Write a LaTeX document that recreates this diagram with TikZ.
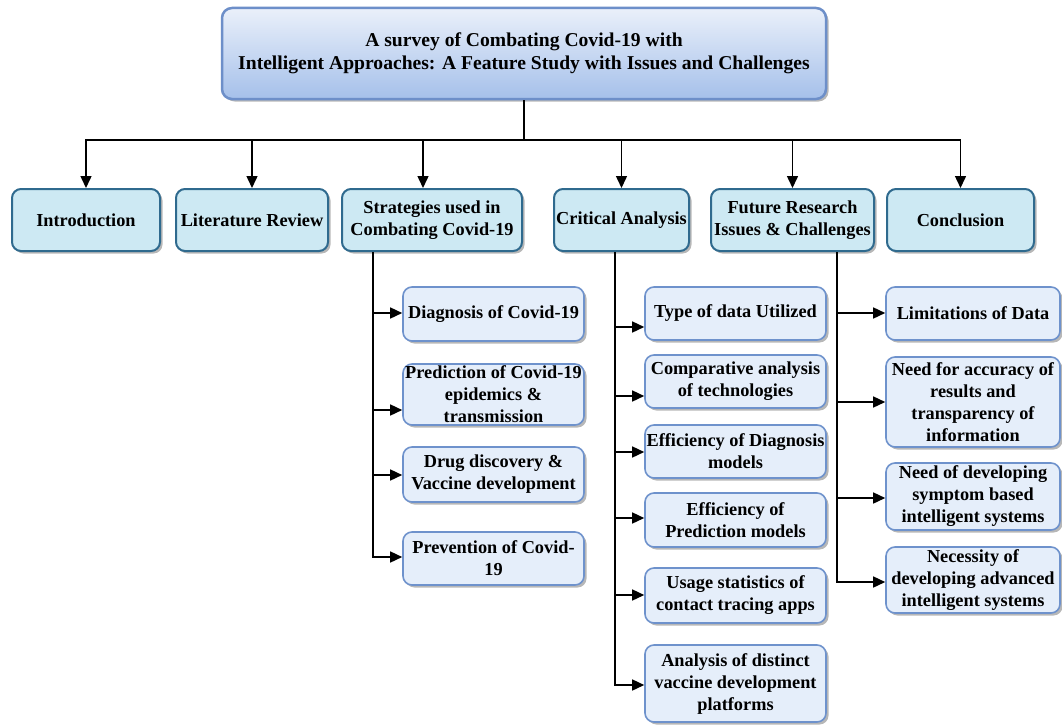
\documentclass[tikz,border=0pt]{standalone}
\usepackage{fontspec}
\setmainfont{Liberation Serif}[BoldFont={Liberation Serif Bold}]
\newfontfamily\boxfont{Liberation Serif Bold}
\usetikzlibrary{arrows.meta,shadows}
\definecolor{topline}{HTML}{6D8FC9}
\definecolor{toptop}{HTML}{EAF0FA}
\definecolor{topbot}{HTML}{A5C0EA}
\definecolor{lonefill}{HTML}{CDE9F3}
\definecolor{loneline}{HTML}{2F6A8E}
\definecolor{ltwofill}{HTML}{E5EEFA}
\definecolor{ltwoline}{HTML}{6E92CC}
\begin{document}
\begin{tikzpicture}[x=1pt,y=-1pt,
  txt/.style={font=\boxfont\fontsize{18.3}{22}\selectfont, align=center, inner sep=1pt},
  shad/.style={drop shadow={shadow xshift=2.5pt, shadow yshift=-2.5pt, opacity=0.4, fill=black!70}},
  titlebox/.style={txt, font=\boxfont\fontsize{19.6}{23}\selectfont, shad, draw=topline, line width=2.5pt, rounded corners=10pt, top color=toptop, bottom color=topbot},
  lone/.style={txt, shad, draw=loneline, line width=2pt, fill=lonefill, rounded corners=9pt, minimum height=62pt},
  ltwo/.style={txt, shad, draw=ltwoline, line width=1.6pt, fill=ltwofill, rounded corners=9pt},
  arr/.style={line width=1.5pt, -{Triangle[length=12pt,width=11pt]}},
  ln/.style={line width=1.5pt}]
\useasboundingbox (0,0) rectangle (1062,725);

\node[titlebox, minimum width=604pt, minimum height=91pt] (top) at (524,53.5)
  {A survey of Combating Covid-19 with\\Intelligent Approaches: A Feature Study with Issues and Challenges};

\node[lone, minimum width=148pt] (intro) at (86,220) {Introduction};
\node[lone, minimum width=152pt] (lit) at (252,220) {Literature Review};
\node[lone, minimum width=180pt] (strat) at (432,220) {Strategies used in\\Combating Covid-19};
\node[lone, minimum width=135pt] (crit) at (621.5,220) {Critical Analysis};
\node[lone, minimum width=163pt] (fut) at (792.5,220) {Future Research\\Issues \& Challenges};
\node[lone, minimum width=147pt] (conc) at (960.5,220) {Conclusion};

\coordinate (j) at (top.south |- 0,140);
\draw[ln] (top.south) -- (j);
\draw[arr] (j) -| (intro.north);
\draw[arr] (j) -| (lit.north);
\draw[arr] (j) -| ([xshift=-9pt]strat.north);
\draw[arr] (j) -| (crit.north);
\draw[arr] (j) -| (fut.north);
\draw[arr] (j) -| (conc.north);

% Strategies children
\node[ltwo, minimum width=181pt, minimum height=54pt] (diag) at (493.5,314) {Diagnosis of Covid-19};
\node[ltwo, minimum width=181pt, minimum height=61pt] (pred) at (493.5,394.5) {Prediction of Covid-19\\epidemics \&\\transmission};
\node[ltwo, minimum width=181pt, minimum height=55pt] (drug) at (493.5,474.5) {Drug discovery \&\\Vaccine development};
\node[ltwo, minimum width=181pt, minimum height=53pt] (prev) at (493.5,558.5) {Prevention of Covid-\\19};
\coordinate (s0) at (strat.south -| 373,0);
\draw[arr] (s0) |- (diag.west |- 0,313);
\draw[arr] (s0) |- (pred.west |- 0,410);
\draw[arr] (s0) |- (drug.west |- 0,475);
\draw[arr] (s0) |- (prev.west |- 0,557);

% Critical children
\node[ltwo, minimum width=181pt, minimum height=53pt] (type) at (735.5,313.5) {Type of data Utilized};
\node[ltwo, minimum width=181pt, minimum height=53pt] (comp) at (735.5,381.5) {Comparative analysis\\of technologies};
\node[ltwo, minimum width=181pt, minimum height=53pt] (effd) at (735.5,451.5) {Efficiency of Diagnosis\\models};
\node[ltwo, minimum width=181pt, minimum height=54pt] (effp) at (735.5,520) {Efficiency of\\Prediction models};
\node[ltwo, minimum width=181pt, minimum height=55pt] (usage) at (735.5,595.5) {Usage statistics of\\contact tracing apps};
\node[ltwo, minimum width=181pt, minimum height=77pt] (anal) at (735.5,683.5) {Analysis of distinct\\vaccine development\\platforms};
\coordinate (c0) at (crit.south -| 615,0);
\draw[arr] (c0) |- (type.west |- 0,327);
\draw[arr] (c0) |- (comp.west |- 0,396);
\draw[arr] (c0) |- (effd.west |- 0,452);
\draw[arr] (c0) |- (effp.west |- 0,518);
\draw[arr] (c0) |- (usage.west |- 0,595);
\draw[arr] (c0) |- (anal.west |- 0,685);

% Future children
\node[ltwo, minimum width=174pt, minimum height=53pt] (lim) at (973,313.5) {Limitations of Data};
\node[ltwo, minimum width=174pt, minimum height=90pt] (acc) at (973,402) {Need for accuracy of\\results and\\transparency of\\information};
\node[ltwo, minimum width=174pt, minimum height=67pt] (sym) at (973,496.5) {Need of developing\\symptom based\\intelligent systems};
\node[ltwo, minimum width=174pt, minimum height=66pt] (nec) at (973,580) {Necessity of\\developing advanced\\intelligent systems};
\coordinate (f0) at (fut.south -| 837,0);
\draw[arr] (f0) |- (lim.west |- 0,313);
\draw[arr] (f0) |- (acc.west |- 0,402);
\draw[arr] (f0) |- (sym.west |- 0,498);
\draw[arr] (f0) |- (nec.west |- 0,582);
\end{tikzpicture}
\end{document}
